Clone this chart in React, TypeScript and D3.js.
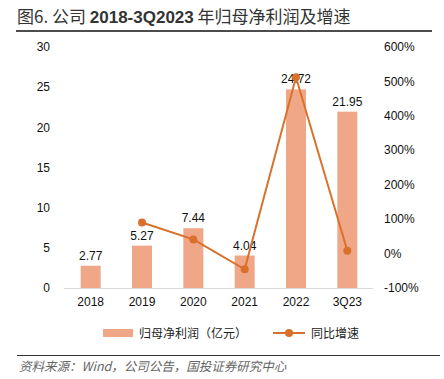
import React from "react";
import * as d3 from "d3";

const categories = ["2018", "2019", "2020", "2021", "2022", "3Q23"];
const profit = [2.77, 5.27, 7.44, 4.04, 24.72, 21.95];
const growth: (number | null)[] = [null, 90.3, 41.2, -45.7, 511.9, 8.4];
const leftTicks = [0, 5, 10, 15, 20, 25, 30];
const rightTicks = [-100, 0, 100, 200, 300, 400, 500, 600];

const BAR = "#F0A788";
const LINE = "#D9702C";
const FONT = "'Liberation Sans', Arial, 'Noto Sans CJK SC', sans-serif";
const CJK = "'Noto Sans CJK SC', sans-serif";

export default function App() {
  const W = 444, H = 379;
  const x = d3.scaleBand<string>().domain(categories).range([65, 373]).paddingInner(0.61).paddingOuter(0.305);
  const yL = d3.scaleLinear().domain([0, 30]).range([288, 47]);
  const yR = d3.scaleLinear().domain([-100, 600]).range([288, 47]);
  const cx = (c: string) => (x(c) as number) + x.bandwidth() / 2;
  const pts = categories.map((c, i) => ({ c, v: growth[i] })).filter((d) => d.v !== null) as { c: string; v: number }[];
  const line = d3.line<{ c: string; v: number }>().x((d) => cx(d.c)).y((d) => yR(d.v));

  return (
    <svg width={W} height={H} style={{ position: "absolute", left: 0, top: 0, fontFamily: FONT }}>
      <rect width={W} height={H} fill="#fff" />
      <text x={17} y={23} fontSize={17} fill="#333">
        <tspan fontFamily={CJK}>图6. 公司 </tspan>
        <tspan fontWeight="bold">2018-3Q2023</tspan>
        <tspan fontFamily={CJK}> 年归母净利润及增速</tspan>
      </text>
      <line x1={16} x2={432} y1={31} y2={31} stroke="#111" strokeWidth={1.5} />

      {leftTicks.map((t) => (
        <text key={"l" + t} x={50} y={yL(t)} dy="0.35em" textAnchor="end" fontSize={12} fill="#111">{t}</text>
      ))}
      {rightTicks.map((t) => (
        <text key={"r" + t} x={384} y={yR(t)} dy="0.35em" textAnchor="start" fontSize={12} fill="#111">{t}%</text>
      ))}

      {categories.map((c, i) => (
        <g key={c}>
          <rect x={x(c)} y={yL(profit[i])} width={x.bandwidth()} height={yL(0) - yL(profit[i])} fill={BAR} />
          <text x={cx(c)} y={yL(profit[i]) - 6} textAnchor="middle" fontSize={12} fill="#111">{profit[i].toFixed(2)}</text>
          <text x={cx(c)} y={306} textAnchor="middle" fontSize={12} fill="#111">{c}</text>
        </g>
      ))}
      <line x1={64} x2={373} y1={288.5} y2={288.5} stroke="#D9D9D9" strokeWidth={1} />

      <path d={line(pts) || ""} fill="none" stroke={LINE} strokeWidth={2} />
      {pts.map((d) => (
        <circle key={d.c} cx={cx(d.c)} cy={yR(d.v)} r={4} fill={LINE} />
      ))}

      <rect x={103} y={329} width={30} height={8} fill={BAR} />
      <text x={139} y={337.5} fontSize={12} fill="#222" fontFamily={CJK}>归母净利润（亿元）</text>
      <line x1={273} x2={305} y1={333} y2={333} stroke={LINE} strokeWidth={2} />
      <circle cx={289} cy={333} r={4} fill={LINE} />
      <text x={311} y={337.5} fontSize={12} fill="#222" fontFamily={CJK}>同比增速</text>

      <line x1={17} x2={440} y1={355.5} y2={355.5} stroke="#333" strokeWidth={1} />
      <text x={19} y={371} fontSize={12.5} fill="#666" fontStyle="italic" fontFamily={CJK}>资料来源：Wind，公司公告，国投证券研究中心</text>
    </svg>
  );
}
